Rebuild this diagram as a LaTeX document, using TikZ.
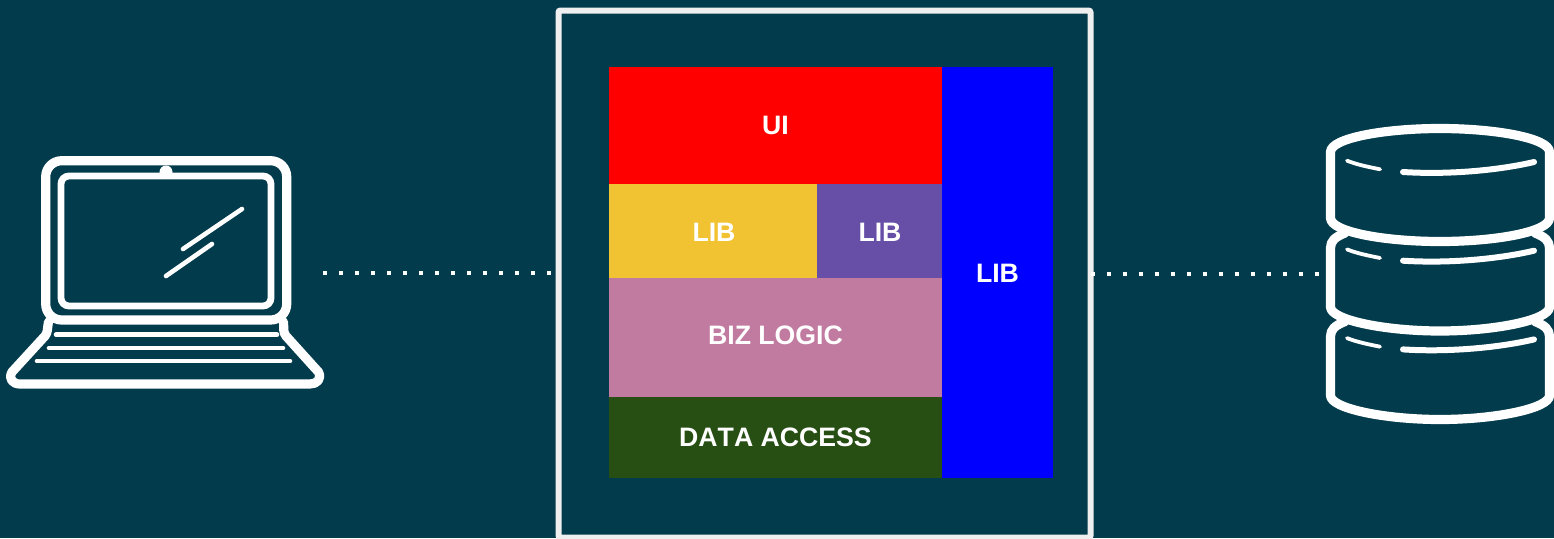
\documentclass[tikz,border=0pt]{standalone}
\usepackage{fontspec}
\setmainfont[Kerning=Off]{Liberation Sans}
\usepackage{tikz}
\definecolor{bgteal}{HTML}{023B4C}
\definecolor{framegray}{HTML}{EFEFEF}
\definecolor{libyellow}{HTML}{F1C232}
\definecolor{libpurple}{HTML}{674EA7}
\definecolor{bizpink}{HTML}{C27BA0}
\definecolor{datagreen}{HTML}{274E13}
\tikzset{
    block/.style={inner sep=0pt, outer sep=0pt, text=white, font=\fontsize{26.67}{30}\selectfont\bfseries},
    icon/.style={draw=white, line width=9.2pt, line join=round, line cap=round},
    thinline/.style={draw=white, line width=4.6pt, line cap=round},
    link/.style={draw=white, line width=4pt, dash pattern=on 4pt off 12pt}
}
\begin{document}
\begin{tikzpicture}[x=1pt, y=-1pt]
        \useasboundingbox[fill=bgteal] (0,0) rectangle (1554,538);

        % Moldura
        \node[draw=framegray, line width=6pt, rounded corners=2pt, minimum width=532pt, minimum height=527pt, inner sep=0pt, outer sep=0pt] (frame) at (824.5,274) {};

        % Camadas
        \fill[red] (609,67) rectangle (942,184);
        \node[block] (ui) at (775.5,125.5) {UI};
        \fill[libyellow] (609,184) rectangle (817,278);
        \node[block] (libleft) at (714,232) {LIB};
        \fill[libpurple] (817,184) rectangle (942,278);
        \node[block] (libright) at (880,232) {LIB};
        \fill[bizpink] (609,278) rectangle (942,397);
        \node[block] (biz) at (775.5,335) {BIZ LOGIC};
        \fill[datagreen] (609,397) rectangle (942,478);
        \node[block] (data) at (775.5,437.5) {DATA ACCESS};
        \fill[blue] (942,67) rectangle (1053,478);
        \node[block] (libside) at (997.5,273.5) {LIB};

        % Laptop
        \draw[icon, rounded corners=16pt] (45.7,160.7) rectangle (286.7,320);
        \draw[icon, line width=6.8pt, rounded corners=8pt] (61,176) rectangle (271,306);
        \fill[white] (166,172) circle (6.5pt);
        \draw[thinline] (242,209) -- (183,249);
        \draw[thinline] (212,244) -- (166,276);
        \draw[thinline] (56,334.7) -- (277,334.7);
        \draw[thinline] (49,348) -- (283,348);
        \draw[thinline] (37,361) -- (290,361);
        \draw[icon] (48.5,322) .. controls (47,330) and (48,332) .. (45,336) -- (12,372)
            .. controls (8,379) and (13,384) .. (20,384) -- (310,384)
            .. controls (317,384) and (322,379) .. (318.5,372) -- (286,336)
            .. controls (283,332) and (284,330) .. (283.5,322);
        \coordinate (laptopport) at (323,273);

        % Base de dados
        \draw[icon] (1330.5,152) .. controls (1330.5,138) and (1385,128.5) .. (1440,128.5)
            .. controls (1495,128.5) and (1549.5,138) .. (1549.5,152)
            -- (1549.5,218) .. controls (1549.5,232) and (1495,241.5) .. (1440,241.5)
            .. controls (1385,241.5) and (1330.5,232) .. (1330.5,218) -- cycle;
        \foreach \y in {0,88.5} {
            \draw[icon] (1345,\y+233) .. controls (1335,\y+237) and (1330.5,\y+241) .. (1330.5,\y+248)
                -- (1330.5,\y+307) .. controls (1330.5,\y+320) and (1385,\y+331) .. (1440,\y+331)
                .. controls (1495,\y+331) and (1549.5,\y+320) .. (1549.5,\y+307)
                -- (1549.5,\y+248) .. controls (1549.5,\y+241) and (1545,\y+237) .. (1535,\y+233);
        }
        \foreach \y in {0,88.7,177.4} {
            \draw[thinline, line width=3.8pt] (1347,\y+160.7) .. controls (1358,\y+165) and (1369,\y+167) .. (1380,\y+169.3);
            \draw[thinline, line width=6pt] (1403,\y+172) .. controls (1450,\y+175) and (1500,\y+170) .. (1534,\y+162);
        }
        \coordinate (dbport) at (1319,273.7);

        % Ligacoes
        \draw[link] (laptopport) -- (frame.west |- laptopport);
        \draw[link] (frame.east |- dbport) -- (dbport);
    \end{tikzpicture}
\end{document}
